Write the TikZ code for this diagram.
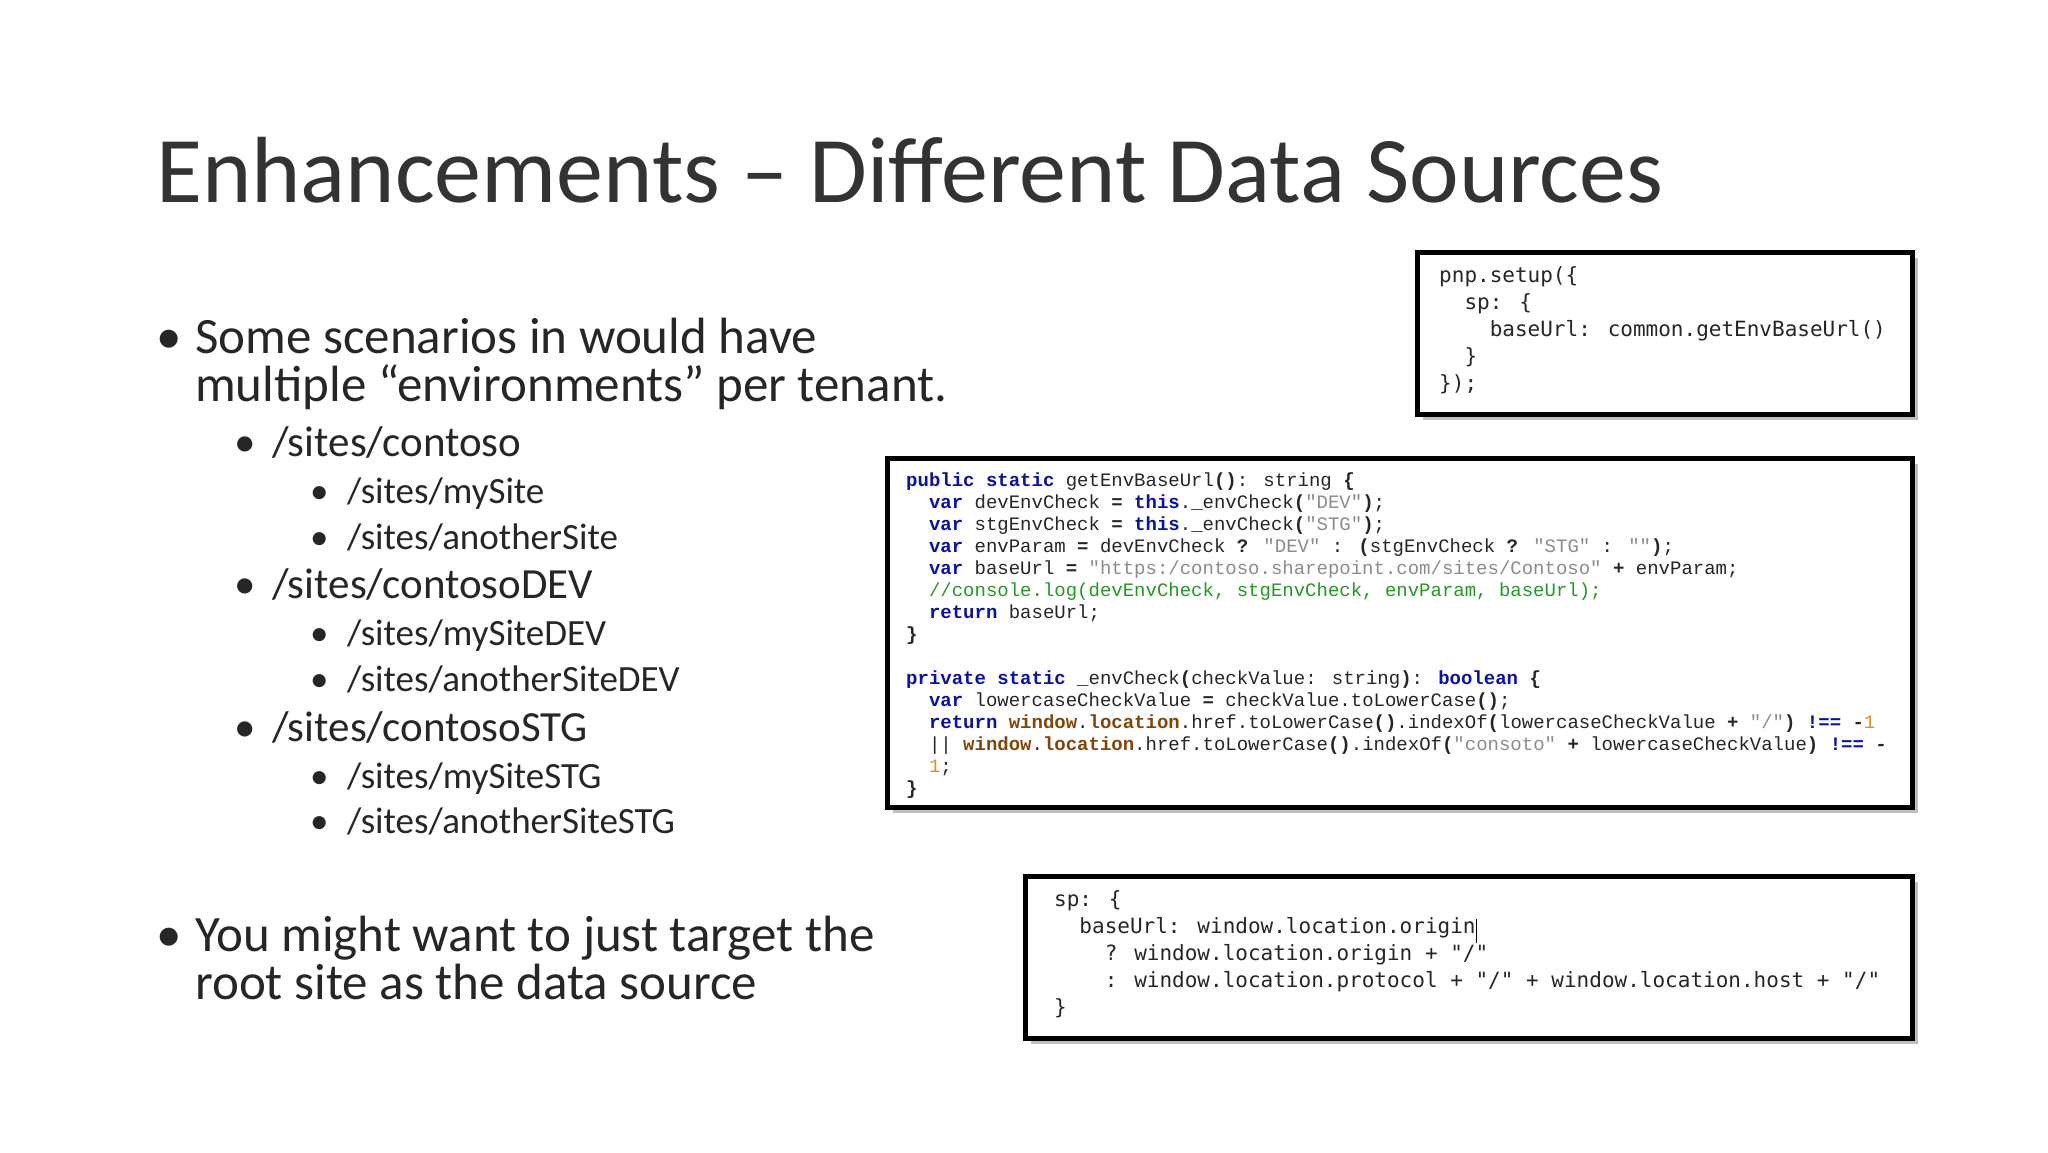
\documentclass[tikz,border=0pt]{standalone}
\usepackage{fontspec}
\setmainfont{Carlito}
\newfontfamily\titlefont{Carlito}
\newfontfamily\cour{Liberation Mono}
\newfontfamily\cons{DejaVu Sans Mono}
\definecolor{kwc}{RGB}{10,20,160}
\definecolor{strc}{RGB}{140,140,140}
\definecolor{cmtc}{RGB}{40,150,40}
\definecolor{wlc}{RGB}{130,70,10}
\definecolor{numc}{RGB}{230,140,30}
\newcommand\kwd[1]{\textcolor{kwc}{\bfseries #1}}
\newcommand\strg[1]{\textcolor{strc}{#1}}
\newcommand\wlc[1]{\textcolor{wlc}{\bfseries #1}}
\tikzset{
  txt/.style={anchor=base west,inner sep=0pt,text=black!85},
  codebox/.style={draw=black,line width=5pt,fill=white},
  shadowbox/.style={fill=black!25,draw=none},
  c2/.style={txt,font=\cour\fontsize{19}{22}\selectfont},
  c1/.style={txt,font=\cons\fontsize{21}{27}\selectfont},
  lv1/.style={txt,font=\fontsize{51}{56}\selectfont},
  lv2/.style={txt,font=\fontsize{43}{48}\selectfont},
  lv3/.style={txt,font=\fontsize{37}{40}\selectfont}
}
\begin{document}
\begin{tikzpicture}[x=1pt,y=-1pt]
\useasboundingbox[fill=white] (0,0) rectangle (2048,1152);
\node[txt,font=\titlefont\fontsize{94}{100}\selectfont,text=black!80] (title) at (156,202) {Enhancements – Different Data Sources};
% bullets
\node[lv1] (b1a) at (156,353) {•};
\node[lv1] (t1a) at (195,353) {Some scenarios in would have};
\node[lv1] (t1b) at (195,401) {multiple “environments” per tenant.};
\node[lv2] (b21) at (234,456) {•};
\node[lv2] (t21) at (272,456) {/sites/contoso};
\node[lv2] (b22) at (234,598) {•};
\node[lv2] (t22) at (272,598) {/sites/contosoDEV};
\node[lv2] (b23) at (234,741) {•};
\node[lv2] (t23) at (272,741) {/sites/contosoSTG};
\node[lv3] (b31) at (310,503) {•};
\node[lv3] (t31) at (347,503) {/sites/mySite};
\node[lv3] (b32) at (310,549) {•};
\node[lv3] (t32) at (347,549) {/sites/anotherSite};
\node[lv3] (b33) at (310,645) {•};
\node[lv3] (t33) at (347,645) {/sites/mySiteDEV};
\node[lv3] (b34) at (310,691) {•};
\node[lv3] (t34) at (347,691) {/sites/anotherSiteDEV};
\node[lv3] (b35) at (310,788) {•};
\node[lv3] (t35) at (347,788) {/sites/mySiteSTG};
\node[lv3] (b36) at (310,833) {•};
\node[lv3] (t36) at (347,833) {/sites/anotherSiteSTG};
\node[lv1] (b1b) at (156,951) {•};
\node[lv1] (t1c) at (195,951) {You might want to just target the};
\node[lv1] (t1d) at (195,999) {root site as the data source};
% box 1
\fill[shadowbox] (1423,258) rectangle (1918,420);
\draw[codebox] (1417,252) rectangle (1912,414);
\node[c1] (a1) at (1439,282) {pnp.setup(\{};
\node[c1] (a2) at (1439,309) {\ \ sp: \{};
\node[c1] (a3) at (1439,336) {\ \ \ \ baseUrl: common.getEnvBaseUrl()};
\node[c1] (a4) at (1439,363) {\ \ \}};
\node[c1] (a5) at (1439,390) {\});};
% box 2
\fill[shadowbox] (893,464) rectangle (1918,813);
\draw[codebox] (887,458) rectangle (1912,807);
\node[c2] (m1) at (906,486) {\kwd{public static} getEnvBaseUrl\textbf{()}: string \textbf{\{}};
\node[c2] (m2) at (906,508) {\ \ \kwd{var} devEnvCheck \textbf{=} \kwd{this}.\_envCheck\textbf{(}\strg{"DEV"}\textbf{)};};
\node[c2] (m3) at (906,530) {\ \ \kwd{var} stgEnvCheck \textbf{=} \kwd{this}.\_envCheck\textbf{(}\strg{"STG"}\textbf{)};};
\node[c2] (m4) at (906,552) {\ \ \kwd{var} envParam \textbf{=} devEnvCheck \textbf{?} \strg{"DEV"} : \textbf{(}stgEnvCheck \textbf{?} \strg{"STG"} : \strg{""}\textbf{)};};
\node[c2] (m5) at (906,574) {\ \ \kwd{var} baseUrl \textbf{=} \strg{"https:/contoso.sharepoint.com/sites/Contoso"} \textbf{+} envParam;};
\node[c2] (m6) at (906,596) {\ \ \textcolor{cmtc}{//console.log(devEnvCheck, stgEnvCheck, envParam, baseUrl);}};
\node[c2] (m7) at (906,618) {\ \ \kwd{return} baseUrl;};
\node[c2] (m8) at (906,640) {\textbf{\}}};
\node[c2] (m9) at (906,684) {\kwd{private static} \_envCheck\textbf{(}checkValue: string\textbf{)}: \kwd{boolean} \textbf{\{}};
\node[c2] (m10) at (906,706) {\ \ \kwd{var} lowercaseCheckValue \textbf{=} checkValue.toLowerCase\textbf{()};};
\node[c2] (m11) at (906,728) {\ \ \kwd{return} \wlc{window}.\wlc{location}.href.toLowerCase\textbf{()}.indexOf\textbf{(}lowercaseCheckValue \textbf{+} \strg{"/"}\textbf{)} \kwd{!==} \textbf{-}\textcolor{numc}{1}};
\node[c2] (m12) at (906,750) {\ \ || \wlc{window}.\wlc{location}.href.toLowerCase\textbf{()}.indexOf\textbf{(}\strg{"consoto"} \textbf{+} lowercaseCheckValue\textbf{)} \kwd{!==} \textbf{-}};
\node[c2] (m13) at (906,772) {\ \ \textcolor{numc}{1};};
\node[c2] (m14) at (906,794) {\textbf{\}}};
% box 3
\fill[shadowbox] (1031,882) rectangle (1918,1044);
\draw[codebox] (1025,876) rectangle (1912,1038);
\node[c1] (s1) at (1054,906) {sp: \{};
\node[c1] (s2) at (1054,933) {\ \ baseUrl: window.location.origin};
\draw[line width=1pt] (s2.north east) ++(1,2) coordinate (cur) -- ++(0,24);
\node[c1] (s3) at (1054,960) {\ \ \ \ ? window.location.origin + "/"};
\node[c1] (s4) at (1054,987) {\ \ \ \ : window.location.protocol + "/" + window.location.host + "/"};
\node[c1] (s5) at (1054,1014) {\}};
\end{tikzpicture}
\end{document}
